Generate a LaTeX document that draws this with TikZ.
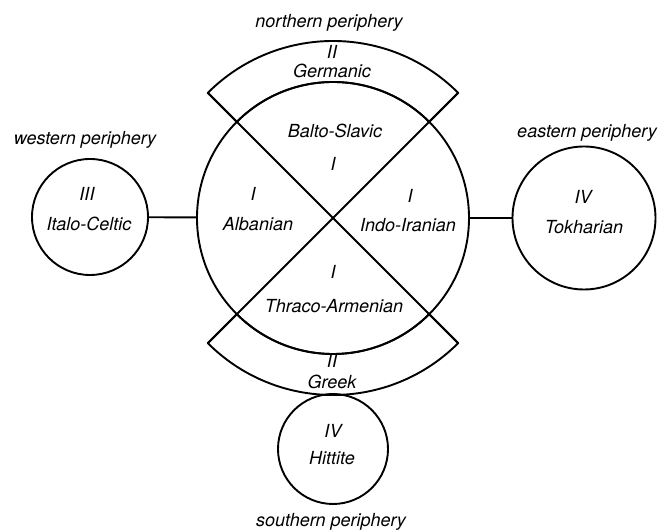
\documentclass[tikz,border=0pt]{standalone}
\usepackage{fontspec}
\setmainfont{TeX Gyre Heros}
\usepackage{tikz}
\usetikzlibrary{arrows}

\tikzset{
  lbl/.style={anchor=base,inner sep=0pt,font=\fontsize{18}{21}\selectfont\itshape},
  group/.style={circle,draw,inner sep=0pt,line width=1.9pt}
}

\begin{document}
\begin{tikzpicture}[line cap=round,line join=round,line width=1.9pt,x=1pt,y=1pt]
\useasboundingbox (0,0) rectangle (659,532);
% the four circles
\node[group,minimum size=272pt] (core) at (333,314) {};
\node[group,minimum size=116pt] (italo) at (90,315) {};
\node[group,minimum size=143pt] (tokh) at (584,314) {};
\node[group,minimum size=110pt] (hitt) at (333,83) {};
\draw (italo) -- (core);
\draw (core) -- (tokh);
% bands and cross
\begin{scope}[shift={(core.center)}]
\draw (135:177) arc[start angle=135,end angle=45,radius=177] -- (45:136)
      arc[start angle=45,end angle=135,radius=136] -- cycle;
\draw (-135:177) arc[start angle=-135,end angle=-45,radius=177] -- (-45:136)
      arc[start angle=-45,end angle=-135,radius=136] -- cycle;
\draw (135:177) -- (-45:177);
\draw (45:177) -- (-135:177);
\end{scope}
% labels
\node[lbl] (north) at (329,504) {northern periphery};
\node[lbl] (germnum) at (332,473) {II};
\node[lbl] (germ) at (332,454) {Germanic};
\node[lbl] (baltnum) at (333,361) {I};
\node[lbl] (balt) at (335,394) {Balto-Slavic};
\node[lbl] (albnum) at (253,331) {I};
\node[lbl] (alb) at (258,301) {Albanian};
\node[lbl] (indnum) at (410,329) {I};
\node[lbl] (ind) at (408,300) {Indo-Iranian};
\node[lbl] (thrnum) at (333,253) {I};
\node[lbl] (thr) at (334,219) {Thraco-Armenian};
\node[lbl] (grnum) at (332,164) {II};
\node[lbl] (gr) at (332,143) {Greek};
\node[lbl] (hittnum) at (333,94) {IV};
\node[lbl] (hittname) at (332,67) {Hittite};
\node[lbl] (south) at (331,5) {southern periphery};
\node[lbl] (west) at (85,387) {western periphery};
\node[lbl] (italonum) at (87,331) {III};
\node[lbl] (italoname) at (89,301) {Italo-Celtic};
\node[lbl] (east) at (587,394) {eastern periphery};
\node[lbl] (tokhnum) at (583,328) {IV};
\node[lbl] (tokhname) at (584,298) {Tokharian};
\end{tikzpicture}
\end{document}
